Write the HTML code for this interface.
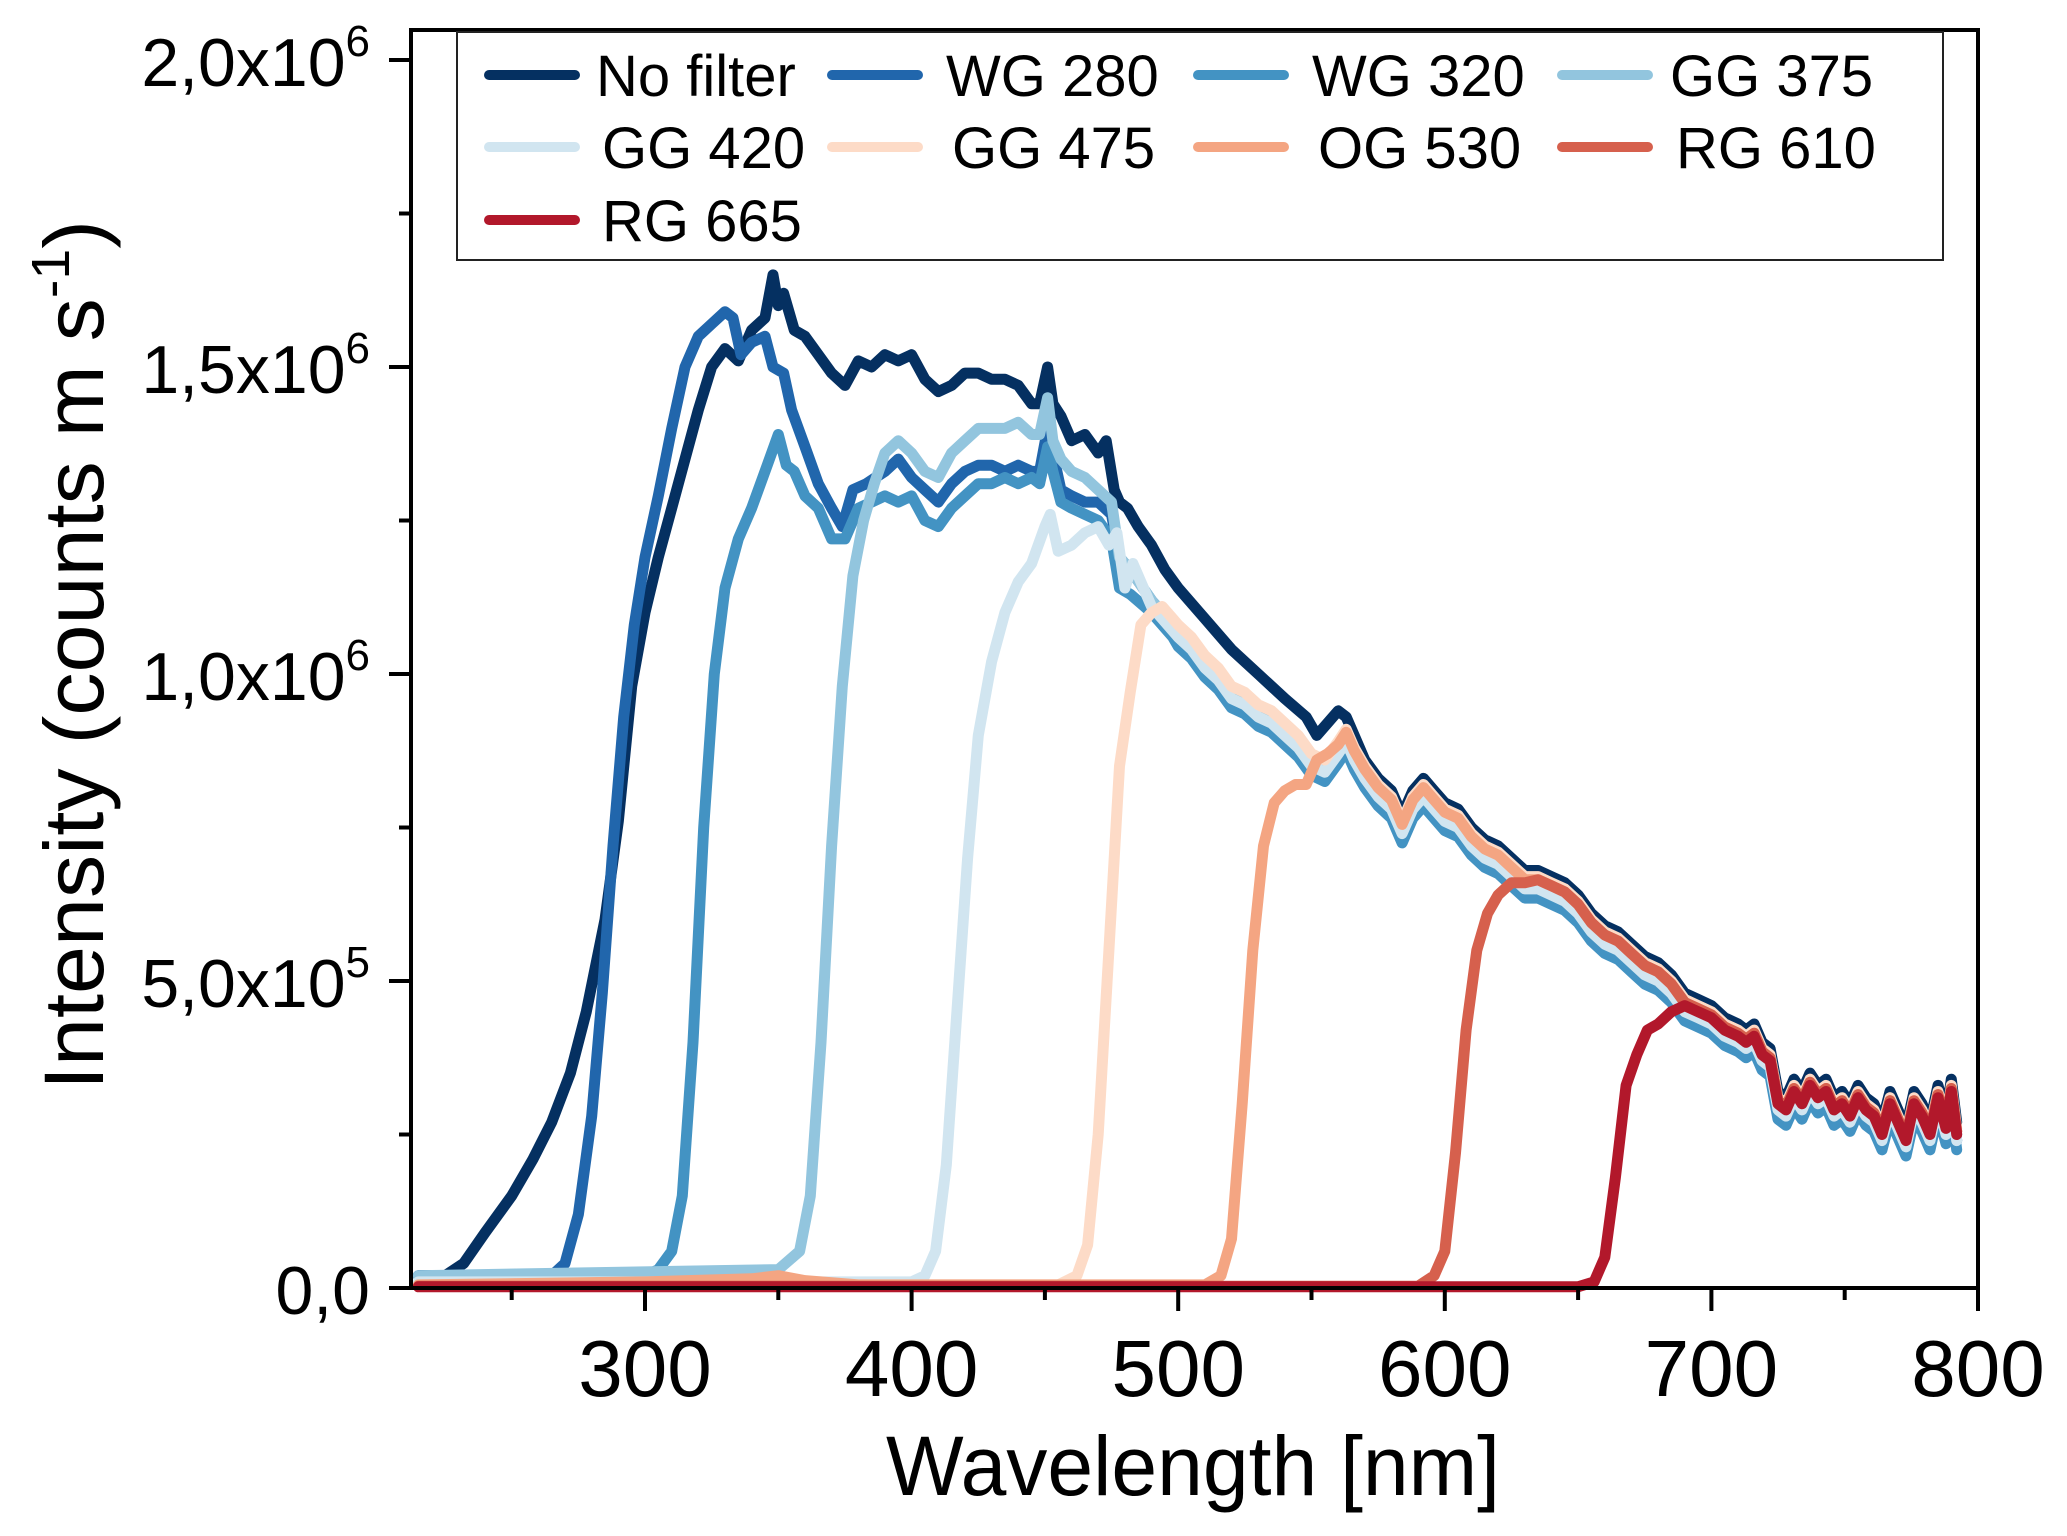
<!DOCTYPE html>
<html><head><meta charset="utf-8"><style>
html,body{margin:0;padding:0;background:#fff;}
svg{display:block;}
text{font-family:"Liberation Sans",Arial,sans-serif;fill:#000;}
</style></head><body>
<svg id="chart" width="2067" height="1536" viewBox="0 0 2067 1536" xmlns="http://www.w3.org/2000/svg">
<g id="series"></g>
<g id="axes"></g>
<g id="legend"></g>
</svg>
<script>
const seriesNames = ["No filter","WG 280","WG 320","GG 375","GG 420","GG 475","OG 530","RG 610","RG 665"];
const seriesColors = ["#053061","#2166ac","#4393c3","#92c5de","#d1e5f0","#fddbc7","#f4a582","#d6604d","#b2182b"];
const xTicks = [300,400,500,600,700,800];
const xMinorTicks = [250,350,450,550,650,750];
const yTickValues = [0,0.5,1.0,1.5,2.0];
const yTickLabels = ["0,0","5,0x10","1,0x10","1,5x10","2,0x10"];
const yTickExps = ["","5","6","6","6"];
const yMinorTicks = [0.25,0.75,1.25,1.75];

// shared long-wave tail (x1e6 counts)
const tailWl  = [500,505,510,515,520,525,530,535,540,545,550,555,560,563,566,570,575,580,584,588,592,596,600,605,610,615,620,625,630,635,640,645,650,655,660,665,670,675,680,685,690,695,700,705,710,713,716,719,722,725,728,731,734,737,740,743,746,749,752,755,758,761,764,767,770,773,776,779,782,785,788,790,792];
const tailVals= [1.07,1.05,1.02,1.00,0.97,0.96,0.94,0.93,0.91,0.89,0.86,0.85,0.88,0.90,0.87,0.84,0.81,0.79,0.75,0.79,0.81,0.79,0.77,0.76,0.73,0.71,0.70,0.68,0.66,0.66,0.65,0.64,0.62,0.59,0.57,0.56,0.54,0.52,0.51,0.49,0.46,0.45,0.44,0.42,0.41,0.40,0.41,0.38,0.37,0.30,0.29,0.32,0.30,0.33,0.31,0.32,0.29,0.30,0.28,0.31,0.29,0.28,0.25,0.30,0.27,0.24,0.30,0.28,0.25,0.31,0.26,0.32,0.25];

const noFilterWl  = [215,225,232,240,250,258,265,272,278,285,290,295,300,305,310,315,320,325,330,335,340,345,348,350,352,356,360,365,370,375,380,385,390,395,400,405,410,415,420,425,430,435,440,445,448,451,453,456,460,465,470,473,476,478,481,485,490,495,500,510,520,530,540,548,552,556,560,563,566];
const noFilterVals= [0.02,0.02,0.04,0.09,0.15,0.21,0.27,0.35,0.45,0.60,0.76,0.98,1.10,1.19,1.27,1.35,1.43,1.50,1.53,1.51,1.56,1.58,1.65,1.60,1.62,1.56,1.55,1.52,1.49,1.47,1.51,1.50,1.52,1.51,1.52,1.48,1.46,1.47,1.49,1.49,1.48,1.48,1.47,1.44,1.44,1.50,1.44,1.42,1.38,1.39,1.36,1.38,1.30,1.28,1.27,1.24,1.21,1.17,1.14,1.09,1.04,1.00,0.96,0.93,0.90,0.92,0.94,0.93,0.90];
const wg280Wl  = [215,265,270,275,280,284,288,292,296,300,305,310,315,320,325,330,333,336,340,345,348,352,355,360,365,370,374,378,383,390,395,400,405,410,415,420,425,430,435,440,445,448,451,453,456,460,465,470,475,478,482,490,498];
const wg280Vals= [0.02,0.02,0.04,0.12,0.28,0.48,0.72,0.93,1.08,1.19,1.29,1.40,1.50,1.55,1.57,1.59,1.58,1.52,1.54,1.55,1.50,1.49,1.43,1.37,1.31,1.27,1.24,1.30,1.31,1.33,1.35,1.32,1.30,1.28,1.31,1.33,1.34,1.34,1.33,1.34,1.33,1.33,1.40,1.36,1.30,1.29,1.28,1.28,1.26,1.19,1.17,1.12,1.08];
const wg320Wl  = [215,300,305,310,314,318,322,326,330,335,340,345,350,353,356,360,365,370,375,380,385,390,395,400,405,410,415,420,425,430,435,440,445,448,451,453,456,460,465,470,475,478,482,490,498];
const wg320Vals= [0.02,0.02,0.03,0.06,0.15,0.40,0.75,1.00,1.14,1.22,1.27,1.33,1.39,1.34,1.33,1.29,1.27,1.22,1.22,1.27,1.28,1.29,1.28,1.29,1.25,1.24,1.27,1.29,1.31,1.31,1.32,1.31,1.32,1.31,1.37,1.33,1.28,1.27,1.26,1.25,1.22,1.14,1.13,1.10,1.06];
const gg375Wl  = [215,350,358,362,366,370,374,378,382,386,390,395,400,405,410,415,420,425,430,435,440,445,448,451,453,456,460,465,470,475,478,482,490,498];
const gg375Vals= [0.02,0.03,0.06,0.15,0.40,0.72,0.98,1.16,1.25,1.31,1.36,1.38,1.36,1.33,1.32,1.36,1.38,1.40,1.40,1.40,1.41,1.39,1.39,1.45,1.38,1.35,1.33,1.32,1.30,1.28,1.19,1.17,1.12,1.08];
const gg420Wl  = [215,400,405,409,413,417,421,425,430,435,440,445,450,452,455,460,465,470,474,477,480,483,490,498];
const gg420Vals= [0.01,0.01,0.02,0.06,0.20,0.45,0.70,0.90,1.02,1.10,1.15,1.18,1.24,1.26,1.20,1.21,1.23,1.24,1.21,1.23,1.14,1.18,1.11,1.07];
const gg475Wl  = [215,455,462,466,470,474,478,482,486,490,494,498];
const gg475Vals= [0.005,0.005,0.02,0.07,0.25,0.55,0.85,0.97,1.08,1.10,1.11,1.09];
const og530Wl  = [215,300,340,350,360,380,420,510,516,520,524,528,532,536,540,544,548,552,556];
const og530Vals= [0.005,0.01,0.015,0.02,0.012,0.005,0.005,0.005,0.02,0.08,0.30,0.55,0.72,0.79,0.81,0.82,0.82,0.86,0.87];
const rg610Wl  = [215,590,596,600,604,608,612,616,620,625,630];
const rg610Vals= [0.003,0.003,0.02,0.06,0.22,0.42,0.55,0.61,0.64,0.66,0.66];
const rg665Wl  = [215,650,656,660,664,668,672,676,680,685,690,695];
const rg665Vals= [0.002,0.002,0.01,0.05,0.18,0.33,0.38,0.42,0.43,0.45,0.46,0.45];

const seriesWl = [noFilterWl,wg280Wl,wg320Wl,gg375Wl,gg420Wl,gg475Wl,og530Wl,rg610Wl,rg665Wl];
const seriesVals = [noFilterVals,wg280Vals,wg320Vals,gg375Vals,gg420Vals,gg475Vals,og530Vals,rg610Vals,rg665Vals];
const seriesTailOffset = [0.02,-0.01,-0.025,0,-0.01,0.01,0.005,0.005,0];

const X0 = 411, X1 = 1978, Y0 = 1288, YT = 30;
function xs(nm){ return 645 + (nm - 300) * (1333/500); }
function ys(v){ return Y0 - v * 614; }
const NS = "http://www.w3.org/2000/svg";
function mk(tag, attrs, parent){ const e = document.createElementNS(NS, tag); for (const k in attrs) e.setAttribute(k, attrs[k]); parent.appendChild(e); return e; }

const gS = document.getElementById('series');
for (let i = 0; i < seriesNames.length; i++) {
  const wl = seriesWl[i], vals = seriesVals[i];
  const pts = [];
  for (let j = 0; j < wl.length; j++) pts.push(xs(wl[j]).toFixed(1) + "," + ys(vals[j]).toFixed(1));
  const last = wl[wl.length - 1];
  for (let j = 0; j < tailWl.length; j++) if (tailWl[j] > last) pts.push(xs(tailWl[j]).toFixed(1) + "," + ys(tailVals[j] + seriesTailOffset[i]).toFixed(1));
  const p = mk('polyline', {points: pts.join(" "), fill: "none", stroke: seriesColors[i], "stroke-width": 11, "stroke-linejoin": "round", "stroke-linecap": "round"}, gS);
  
  
}

const gA = document.getElementById('axes');
const frame = mk('rect', {x: X0, y: YT, width: X1 - X0, height: Y0 - YT, fill: "none", stroke: "#000", "stroke-width": 4}, gA);


for (let i = 0; i < xTicks.length; i++) {
  const x = xs(xTicks[i]);
  const t = mk('line', {x1: x, y1: Y0, x2: x, y2: Y0 + 23, stroke: "#000", "stroke-width": 4}, gA);
  
  
  const l = mk('text', {x: x, y: 1396, "font-size": 80, "text-anchor": "middle"}, gA);
  l.textContent = xTicks[i];
  
  
}
for (let i = 0; i < xMinorTicks.length; i++) {
  const x = xs(xMinorTicks[i]);
  const t = mk('line', {x1: x, y1: Y0, x2: x, y2: Y0 + 12, stroke: "#000", "stroke-width": 4}, gA);
  
  
}
for (let i = 0; i < yTickValues.length; i++) {
  const y = ys(yTickValues[i]);
  const t = mk('line', {x1: X0 - 22, y1: y, x2: X0, y2: y, stroke: "#000", "stroke-width": 4}, gA);
  
  
  const l = mk('text', {x: 370, y: y + 26, "font-size": 68, "text-anchor": "end"}, gA);
  
  
  l.appendChild(document.createTextNode(yTickLabels[i]));
  if (yTickExps[i]) { const s = document.createElementNS(NS, 'tspan'); s.setAttribute('font-size', 44); s.setAttribute('dy', -30); s.textContent = yTickExps[i]; l.appendChild(s); }
}
for (let i = 0; i < yMinorTicks.length; i++) {
  const y = ys(yMinorTicks[i]);
  const t = mk('line', {x1: X0 - 12, y1: y, x2: X0, y2: y, stroke: "#000", "stroke-width": 4}, gA);
  
  
}
const xt = mk('text', {x: 886, y: 1495, "font-size": 84, textLength: 614, lengthAdjust: "spacingAndGlyphs"}, gA);
xt.textContent = "Wavelength [nm]";


const yt = mk('text', {x: 0, y: 0, "font-size": 84, transform: "translate(103,1090) rotate(-90)", textLength: 870, lengthAdjust: "spacingAndGlyphs"}, gA);


yt.appendChild(document.createTextNode("Intensity (counts m s"));
const sup = document.createElementNS(NS, 'tspan'); sup.setAttribute('font-size', 54); sup.setAttribute('dy', -34); sup.textContent = "-1"; yt.appendChild(sup);
const cp = document.createElementNS(NS, 'tspan'); cp.setAttribute('dy', 34); cp.textContent = ")"; yt.appendChild(cp);

const gL = document.getElementById('legend');
const box = mk('rect', {x: 457, y: 32, width: 1486, height: 228, fill: "#fff", stroke: "#222", "stroke-width": 2}, gL);


const colLine = [489, 832, 1198, 1562];
const colText = [596, 946, 1312, 1670];
const rowY = [75, 147, 220];
for (let i = 0; i < seriesNames.length; i++) {
  const c = i % 4, r = Math.floor(i / 4);
  const g = mk('g', {}, gL);
  
  
  mk('line', {x1: colLine[c], y1: rowY[r], x2: colLine[c] + 86, y2: rowY[r], stroke: seriesColors[i], "stroke-width": 10, "stroke-linecap": "round"}, g);
  const t = mk('text', {x: colText[c] + (r > 0 ? 6 : 0), y: rowY[r] + 21, "font-size": 58}, g);
  t.textContent = seriesNames[i];
}
</script>
</body></html>
